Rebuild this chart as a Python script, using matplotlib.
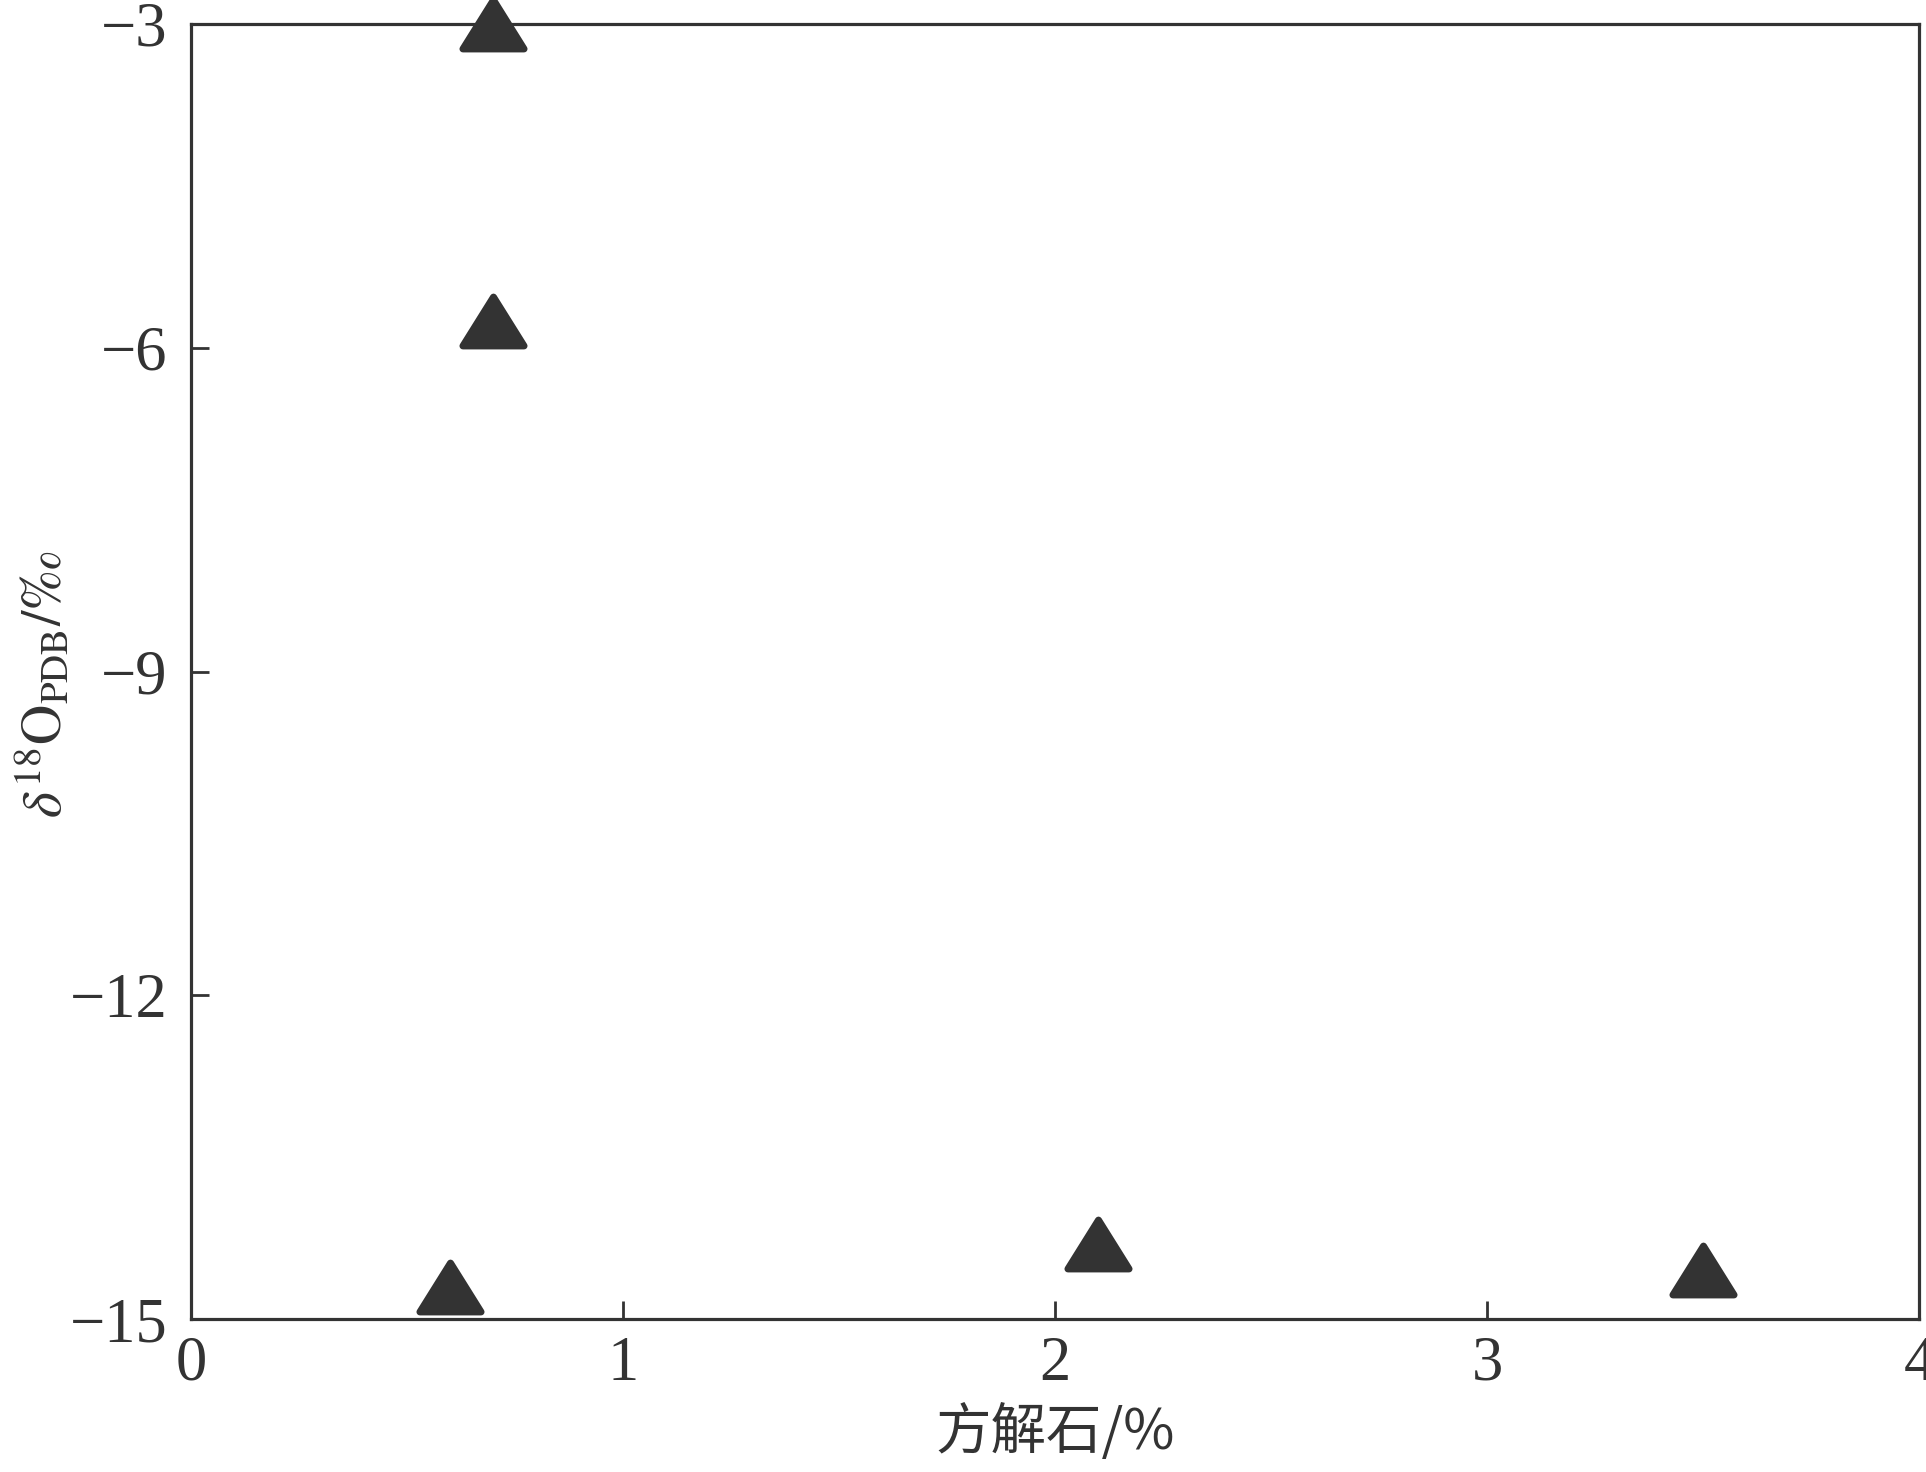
import matplotlib.pyplot as plt
from matplotlib.markers import MarkerStyle
from matplotlib.path import Path

plt.rcParams['font.family'] = ['Liberation Serif', 'Noto Sans CJK SC']
plt.rcParams['mathtext.fontset'] = 'stix'

# data
calcite = [0.7, 0.7, 0.6, 2.1, 3.5]
d18o = [-3.0, -5.75, -14.7, -14.3, -14.55]

x_ticks = [0, 1, 2, 3, 4]
y_ticks = [-3, -6, -9, -12, -15]

dark = "#333333"

fig = plt.figure(figsize=(19.26, 14.72), dpi=100)
ax = fig.add_axes([0.0992, 0.1039, 0.8972, 0.8798])

# wide triangle with rounded corners (closed path)
tri_path = Path([(0, 0.8), (-1, -0.8), (1, -0.8), (0, 0.8)],
                [Path.MOVETO, Path.LINETO, Path.LINETO, Path.CLOSEPOLY])
tri = MarkerStyle(tri_path, joinstyle="round", capstyle="round")
ax.plot(calcite, d18o, linestyle="none", marker=tri, markersize=44,
        color=dark, markeredgecolor=dark, markeredgewidth=5,
        clip_on=False, zorder=5)

ax.set_xlim(0, 4)
ax.set_ylim(-15, -3)
ax.set_xticks(x_ticks)
ax.set_yticks(y_ticks)

for s in ax.spines.values():
    s.set_linewidth(2.3)
    s.set_color(dark)

ax.tick_params(direction="in", length=13, width=2, color=dark,
               labelsize=45, labelcolor=dark, pad=12)
ax.tick_params(axis="y", pad=17)

ax.set_xlabel("方解石/%", fontsize=40, color=dark, labelpad=8,
              family=['Noto Sans CJK SC', 'Liberation Serif'])
ax.set_ylabel(r"$\delta^{18}\mathrm{O}_{\mathrm{PDB}}/‰$", fontsize=40,
              color=dark, labelpad=0)
ax.yaxis.set_label_coords(-0.068, 0.49)

fig.savefig("out.png", dpi=100)
